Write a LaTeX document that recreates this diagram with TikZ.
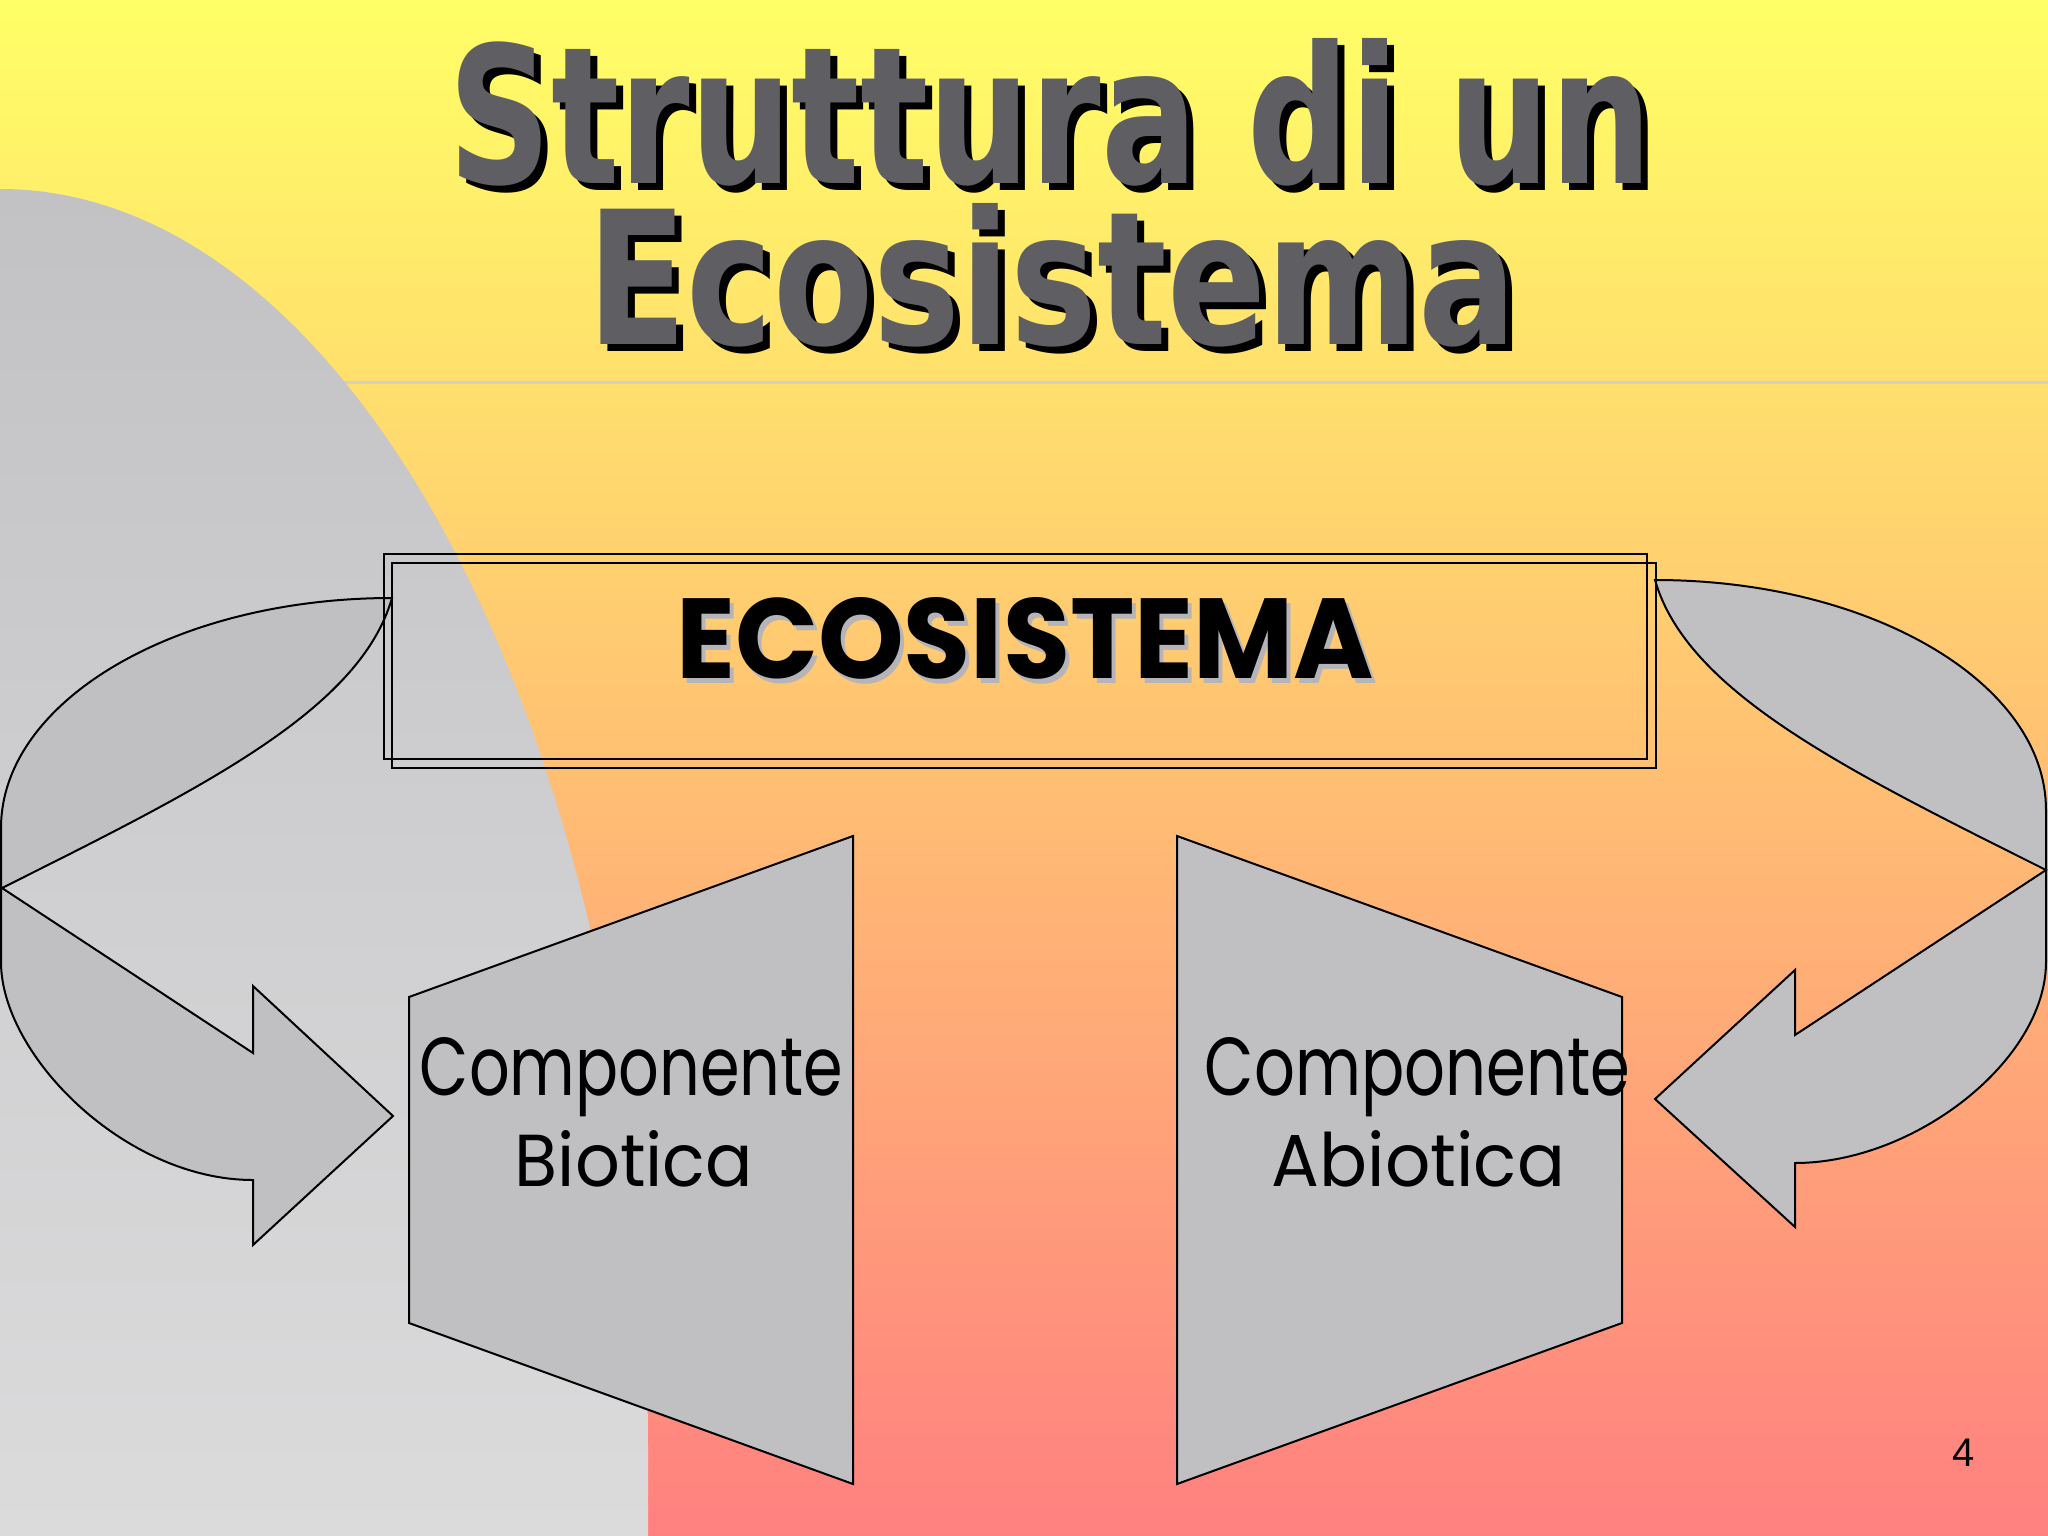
\documentclass[tikz,border=0pt]{standalone}
\usepackage{fontspec}
\usepackage{graphicx}
\setmainfont{Liberation Sans}
\newfontfamily\titlefont{DejaVu Sans}
\newfontfamily\comicfont{Poppins}
\newcommand{\ftxt}[3]{\resizebox{#1pt}{#2pt}{#3}}
\definecolor{bgtop}{HTML}{FFFF66}
\definecolor{bgbot}{HTML}{FF8080}
\definecolor{graytop}{HTML}{C2C1C4}
\definecolor{graybot}{HTML}{DCDBDC}
\definecolor{shapegray}{HTML}{C0BFC2}
\definecolor{titlegray}{HTML}{5F5F63}
\definecolor{rulegray}{HTML}{D2D0CC}
\definecolor{ecoshadow}{HTML}{B5B5B9}
\tikzset{
  txt/.style={inner sep=0pt, outer sep=0pt},
  shapebox/.style={draw=black, line width=2pt, fill=shapegray, line join=miter},
  ecoframe/.style={draw=black, line width=2pt, inner sep=0pt, outer sep=0pt, anchor=north west},
}
\begin{document}
\begin{tikzpicture}[x=1pt,y=-1pt]
\useasboundingbox (0,0) rectangle (2048,1536);
% background
\shade[top color=bgtop, bottom color=bgbot] (0,0) rectangle (2048,1536);
% thin rule
\draw[rulegray, line width=3pt] (250,382) -- (2048,382);
% large gray shape on the left
\shade[top color=graytop, bottom color=graybot]
  (0,189) .. controls (358,189) and (648,754) .. (648,1450) -- (648,1536) -- (0,1536) -- cycle;

% title
\node[txt, anchor=base west, text=black] (title1s) at (455,190)
  {\ftxt{1204}{145}{\titlefont\bfseries Struttura di un}};
\node[txt, anchor=base west, text=titlegray] (title1) at (448,183)
  {\ftxt{1204}{145}{\titlefont\bfseries Struttura di un}};
\node[txt, anchor=base west, text=black] (title2s) at (594,351)
  {\ftxt{930}{141}{\titlefont\bfseries Ecosistema}};
\node[txt, anchor=base west, text=titlegray] (title2) at (587,344)
  {\ftxt{930}{141}{\titlefont\bfseries Ecosistema}};

% curved arrows
\draw[shapebox] (392,598) .. controls (176,598) and (1,701) .. (1,828) -- (1,962)
  .. controls (1,1055) and (125,1180) .. (253,1180) -- (253,1245) -- (393,1116)
  -- (253,986) -- (253,1053) -- (2,888)
  .. controls (202,788) and (360,710) .. (392,598) -- cycle;
\draw[shapebox] (1655,580) .. controls (1871,580) and (2046,683) .. (2046,810) -- (2046,962)
  .. controls (2046,1060) and (1915,1163) .. (1795,1163) -- (1795,1227) -- (1655,1099)
  -- (1795,970) -- (1795,1035) -- (2046,870)
  .. controls (1846,770) and (1687,692) .. (1655,580) -- cycle;

% ECOSISTEMA frame (double)
\node[ecoframe, minimum width=1263pt, minimum height=205pt] (ecoA) at (384,554) {};
\node[ecoframe, minimum width=1264pt, minimum height=205pt] (ecoB) at (392,563) {};
\node[txt, anchor=base west, text=ecoshadow] (ecotxts) at (680,683)
  {\ftxt{698}{81}{\comicfont\bfseries ECOSISTEMA}};
\node[txt, anchor=base west, text=black] (ecotxt) at (676,678)
  {\ftxt{698}{81}{\comicfont\bfseries ECOSISTEMA}};

% trapezoids
\draw[shapebox] (409,997) -- (853,836) -- (853,1484) -- (409,1323) -- cycle;
\draw[shapebox] (1177,836) -- (1622,997) -- (1622,1323) -- (1177,1484) -- cycle;

\node[txt, anchor=base] (bio1) at (631.5,1095) {\ftxt{423}{58}{\comicfont Componente}};
\node[txt, anchor=base] (bio2) at (634,1186) {\ftxt{238}{56}{\comicfont Biotica}};
\node[txt, anchor=base] (abio1) at (1417.5,1095) {\ftxt{425}{58}{\comicfont Componente}};
\node[txt, anchor=base] (abio2) at (1418.5,1186) {\ftxt{293}{56}{\comicfont Abiotica}};

% page number
\node[txt, anchor=base, font=\fontsize{40}{48}\selectfont] (pnum) at (1964,1466) {4};
\end{tikzpicture}
\end{document}
